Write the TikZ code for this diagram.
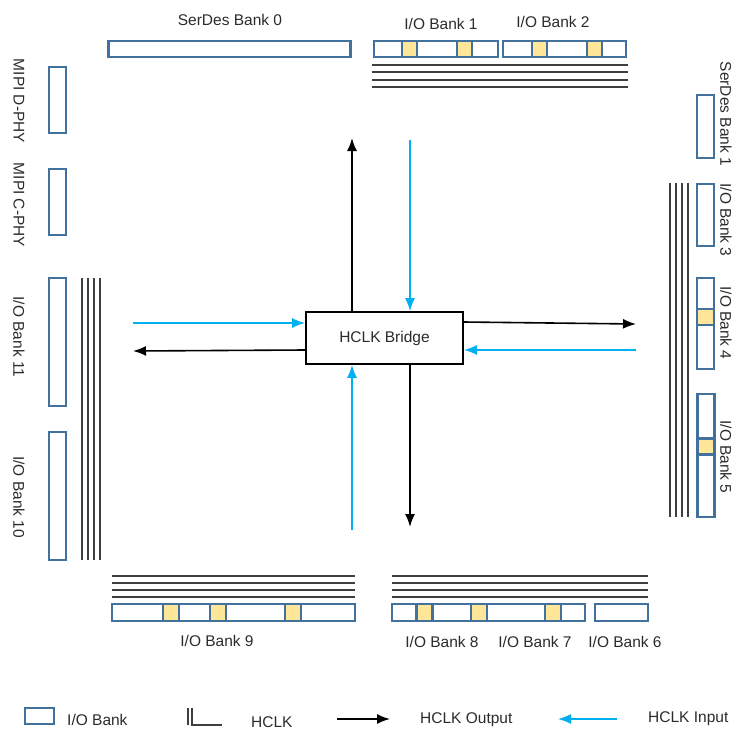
\documentclass[tikz,border=0pt]{standalone}
\usepackage{fontspec}
\setmainfont{Liberation Sans}
\usetikzlibrary{arrows.meta}
\usetikzlibrary{positioning}

\definecolor{bankblue}{HTML}{41719C}
\definecolor{cellyellow}{HTML}{FFE699}
\definecolor{inblue}{HTML}{00B0F0}
\definecolor{txtgray}{HTML}{2B2B2B}
\definecolor{hclkgray}{HTML}{3F3F3F}

\tikzset{
  bank/.style={draw=bankblue, line width=2.4pt, fill=white, inner sep=0pt},
  cell/.style={draw=bankblue, line width=2.4pt, fill=cellyellow, inner sep=0pt},
  hclk/.style={draw=hclkgray, line width=1.6pt},
  txt/.style={text=txtgray, font=\fontsize{15.5}{18}\selectfont, inner sep=0pt},
  bridge/.style={draw=black, line width=1.8pt, fill=white, minimum width=157pt, minimum height=52pt},
  hout/.style={draw=black, line width=1.6pt, -{Latex[length=13pt,width=10pt]}},
  hin/.style={draw=inblue, line width=1.6pt, -{Latex[length=13pt,width=10pt]}}
}

\begin{document}
\begin{tikzpicture}[x=1pt,y=-1pt]
\useasboundingbox (0,0) rectangle (734,731);

% top
\node (serdes0) [bank, minimum width=242pt, minimum height=16pt] at (229.5,49) {};
\node (bank1) [bank, minimum width=124pt, minimum height=16pt] at (436,49) {};
\node (bank2) [bank, minimum width=123pt, minimum height=16pt] at (564.5,49) {};
\node (c1a) [cell, minimum width=15pt, minimum height=16pt] at (409.5,49) {};
\node (c1b) [cell, minimum width=15pt, minimum height=16pt] at (464.5,49) {};
\node (c2a) [cell, minimum width=15pt, minimum height=16pt] at (539.5,49) {};
\node (c2b) [cell, minimum width=15pt, minimum height=16pt] at (594.5,49) {};

\node (serdes0 text) [txt] at (230,20) {SerDes Bank 0};
\node (bank1 text) [txt] at (441,24) {I/O Bank 1};
\node (bank2 text) [txt] at (553,22) {I/O Bank 2};

\foreach \y in {65,72,80,87}
  \draw [hclk] (372,\y) -- (628,\y);

% left
\node (dphy) [bank, minimum width=17pt, minimum height=66pt] at (57.5,100) {};
\node (cphy) [bank, minimum width=17pt, minimum height=66pt] at (57.5,202) {};
\node (bank11) [bank, minimum width=17pt, minimum height=128pt] at (57.5,342) {};
\node (bank10) [bank, minimum width=17pt, minimum height=128pt] at (57.5,496) {};

\node (dphy text) [txt, rotate=-90] at (19,101) {MIPI D-PHY};
\node (cphy text) [txt, rotate=-90] at (19,205) {MIPI C-PHY};
\node (bank11 text) [txt, rotate=-90] at (19,337) {I/O Bank 11};
\node (bank10 text) [txt, rotate=-90] at (19,497) {I/O Bank 10};

\foreach \x in {82,88,94,100}
  \draw [hclk] (\x,278) -- (\x,560);

% right
\node (serdes1) [bank, minimum width=17pt, minimum height=63pt] at (705.5,126.5) {};
\node (bank3) [bank, minimum width=17pt, minimum height=62pt] at (705.5,215) {};
\node (bank4) [bank, minimum width=17pt, minimum height=91pt] at (705.5,323.5) {};
\node (bank5) [bank, minimum width=17pt, minimum height=123pt] at (706,455.5) {};
\node (c4) [cell, minimum width=17pt, minimum height=16pt] at (705.5,317) {};
\node (c5) [cell, minimum width=17pt, minimum height=16pt] at (706,446.5) {};

\node (serdes1 text) [txt, rotate=-90] at (726,114) {SerDes Bank 1};
\node (bank3 text) [txt, rotate=-90] at (726,220) {I/O Bank 3};
\node (bank4 text) [txt, rotate=-90] at (726,323) {I/O Bank 4};
\node (bank5 text) [txt, rotate=-90] at (726,457) {I/O Bank 5};

\foreach \x in {670,676,682,688}
  \draw [hclk] (\x,183) -- (\x,517);

% bottom
\foreach \y in {576,583,590,597} {
  \draw [hclk] (112,\y) -- (355,\y);
  \draw [hclk] (392,\y) -- (648,\y);
}

\node (bank9) [bank, minimum width=243pt, minimum height=17pt] at (233.5,612.5) {};
\node (bank87) [bank, minimum width=193pt, minimum height=17pt] at (488.5,612.5) {};
\node (bank6) [bank, minimum width=53pt, minimum height=17pt] at (621.5,612.5) {};
\node (c9a) [cell, minimum width=16pt, minimum height=17pt] at (171,612.5) {};
\node (c9b) [cell, minimum width=16pt, minimum height=17pt] at (218,612.5) {};
\node (c9c) [cell, minimum width=16pt, minimum height=17pt] at (293,612.5) {};
\node (c8) [cell, minimum width=16pt, minimum height=17pt] at (424.5,612.5) {};
\node (c7a) [cell, minimum width=16pt, minimum height=17pt] at (479,612.5) {};
\node (c7b) [cell, minimum width=16pt, minimum height=17pt] at (553,612.5) {};

\node (bank9 text) [txt] at (217,641) {I/O Bank 9};
\node (bank8 text) [txt] at (442,642) {I/O Bank 8};
\node (bank7 text) [txt] at (535,642) {I/O Bank 7};
\node (bank6 text) [txt] at (625,642) {I/O Bank 6};

% bridge
\node (hb) [bridge, txt] at (384.5,338) {HCLK Bridge};

\coordinate (up end) at (352,138);
\coordinate (top in) at (410,140);
\coordinate (left in) at (133,323);
\coordinate (left end) at (133,351);
\coordinate (right end) at (636,324);
\coordinate (right in) at (636,350);
\coordinate (down end) at (410,527);
\coordinate (bottom in) at (352,530);

\draw [hout] (hb.north -| up end) -- (up end);
\draw [hin] (top in) -- (top in |- hb.north);
\draw [hin] (left in) -- (left in -| hb.west);
\draw [hout] (hb.west |- 0,350) -- (left end);
\draw [hout] (hb.east |- 0,322) -- (right end);
\draw [hin] (right in) -- (right in -| hb.east);
\draw [hout] (hb.south -| down end) -- (down end);
\draw [hin] (bottom in) -- (bottom in |- hb.south);

% legend
\node (key bank) [bank, minimum width=29pt, minimum height=16pt] at (39.5,716) {};
\node (key bank text) [txt, anchor=west] at (67,720) {I/O Bank};
\coordinate (key line) at (188,708);
\draw [hclk] (key line) -- ++(0,17);
\draw [hclk] (192,708) -- (192,725) -- (222,725);
\node (key hclk text) [txt, anchor=west] at (251,722) {HCLK};
\coordinate (key out a) at (337,719);
\coordinate (key out b) at (390,719);
\draw [hout] (key out a) -- (key out b);
\node (key out text) [txt, anchor=west] at (420,720) {HCLK Output};
\coordinate (key in a) at (617,719);
\coordinate (key in b) at (558,719);
\draw [hin] (key in a) -- (key in b);
\node (key in text) [txt, anchor=west] at (648,719) {HCLK Input};
\end{tikzpicture}
\end{document}
